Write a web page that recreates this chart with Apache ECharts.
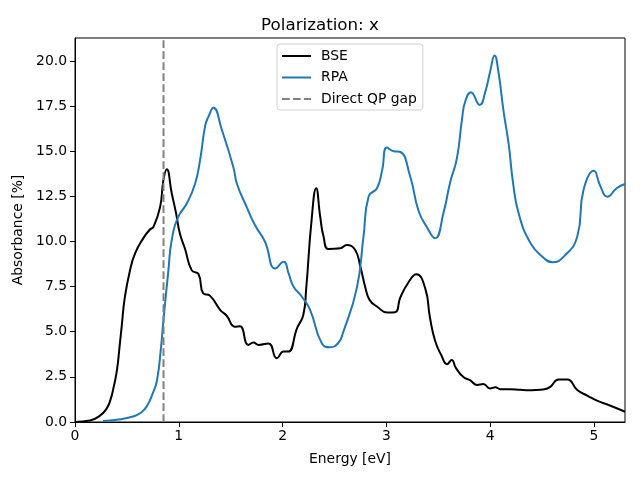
<!DOCTYPE html>
<html><head><meta charset="utf-8">
<script src="https://cdn.jsdelivr.net/npm/echarts@6/dist/echarts.min.js"></script>
<style>html,body{margin:0;padding:0;background:#fff}#c{width:640px;height:480px}</style>
</head><body><div id="c"></div>
<script>
var bseX = [0.00,0.145,0.24,0.30,0.34,0.375,0.405,0.43,0.45,0.48,0.53,0.58,0.66,0.72,0.755,0.82,0.852,0.884,0.932,0.974,1.01,1.06,1.125,1.19,1.235,1.30,1.40,1.46,1.54,1.59,1.67,1.72,1.77,1.865,1.945,2.01,2.055,2.14,2.20,2.228,2.28,2.324,2.363,2.395,2.443,2.555,2.62,2.70,2.75,2.80,2.84,2.91,3.01,3.085,3.135,3.21,3.29,3.375,3.42,3.47,3.53,3.585,3.63,3.67,3.74,3.81,3.875,3.935,4.0,4.05,4.10,4.195,4.29,4.39,4.51,4.58,4.66,4.745,4.84,4.94,5.03,5.16,5.30];
var bseY = [0.00,0.08,0.35,0.7,1.2,2.0,2.9,4.2,5.3,6.9,8.4,9.35,10.2,10.65,10.8,11.9,13.4,14.0,12.67,11.56,10.45,9.6,8.4,8.2,7.13,7.0,6.2,5.9,5.28,5.3,4.27,4.4,4.27,4.35,3.53,3.9,3.9,5.2,5.93,7.4,11.2,12.95,11.37,10.27,9.58,9.62,9.8,9.53,8.6,7.4,6.75,6.4,6.06,6.08,6.9,7.7,8.18,7.4,5.8,4.5,3.7,3.2,3.43,3.0,2.5,2.3,2.05,2.1,1.86,1.92,1.82,1.82,1.78,1.76,1.8,1.95,2.36,2.36,1.77,1.45,1.18,0.9,0.57];
var rpaX = [0.27,0.40,0.56,0.63,0.69,0.75,0.79,0.83,0.85,0.90,0.932,0.996,1.077,1.157,1.205,1.254,1.285,1.334,1.414,1.527,1.56,1.655,1.735,1.83,1.93,2.01,2.06,2.105,2.186,2.266,2.378,2.46,2.54,2.58,2.715,2.78,2.83,2.91,2.96,3.005,3.07,3.13,3.23,3.31,3.39,3.47,3.55,3.616,3.68,3.73,3.76,3.815,3.90,3.954,4.0,4.043,4.08,4.13,4.18,4.22,4.275,4.39,4.52,4.60,4.71,4.84,4.90,5.0,5.06,5.13,5.22,5.30];
var rpaY = [0.05,0.12,0.3,0.5,0.85,1.6,2.3,4.2,5.5,8.4,10.08,11.37,12.1,13.2,14.5,16.4,16.9,17.4,16.2,14.1,13.2,11.9,10.9,10.0,8.5,8.88,8.2,7.5,6.94,6.2,4.36,4.14,4.4,4.9,7.4,10.27,12.5,12.95,13.96,15.2,15.0,14.97,13.6,11.7,10.8,10.18,11.56,13.3,14.6,16.8,17.75,18.27,17.56,18.3,19.4,20.3,19.4,17.2,15.35,13.3,11.56,9.9,9.07,8.85,9.16,10.27,12.85,13.92,13.1,12.48,12.95,13.18];
var gapX = 0.853;
var xTicks = [0,1,2,3,4,5];
var yTicks = [0,2.5,5,7.5,10,12.5,15,17.5,20];
var xMax = 5.3, yMax = 21.27;

function pairs(xs, ys){ return xs.map(function(x,i){ return [x, ys[i]]; }); }
var font = 'DejaVu Sans';
var solidIcon = 'path://M0,0 H29 V2 H0 Z';
var dashIcon = 'path://M0,0 H7.7 V2 H0 Z M11,0 H18.7 V2 H11 Z M22,0 H29 V2 H22 Z';
var chart = echarts.init(document.getElementById('c'), null, {renderer:'canvas'});
chart.setOption({
  animation: false,
  textStyle: {fontFamily: font},
  title: {text: 'Polarization: x', left: 'center', top: 12, textStyle: {fontFamily: font, fontSize: 16.7, fontWeight: 'normal', color: '#000'}},
  grid: {left: 75, right: 15, top: 38, bottom: 58, show: true, borderColor: '#000', borderWidth: 1, backgroundColor: 'transparent'},
  legend: {
    orient: 'vertical', left: 277, top: 44, padding: [5, 6, 4, 5], itemGap: 7.5,
    itemWidth: 29, itemHeight: 14,
    borderColor: '#d0d0d0', borderWidth: 1, borderRadius: 3, backgroundColor: 'rgba(255,255,255,0.8)',
    textStyle: {fontFamily: font, fontSize: 13.9, color: '#000', padding: [0, 0, 0, 5]},
    data: [
      {name: 'BSE', icon: solidIcon, itemStyle: {color: '#000000'}},
      {name: 'RPA', icon: solidIcon, itemStyle: {color: '#1f77b4'}},
      {name: 'Direct QP gap', icon: dashIcon, itemStyle: {color: '#808080'}}
    ]
  },
  xAxis: {
    type: 'value', min: 0, max: xMax,
    name: 'Energy [eV]', nameLocation: 'middle', nameGap: 30,
    nameTextStyle: {fontFamily: font, fontSize: 13.9, color: '#000'},
    axisLine: {show: true, lineStyle: {color: '#000', width: 1}},
    axisTick: {show: true, inside: false, length: 5, lineStyle: {color: '#000'}, customValues: xTicks},
    axisLabel: {fontFamily: font, fontSize: 13.9, color: '#000', margin: 7, customValues: xTicks},
    splitLine: {show: false}
  },
  yAxis: {
    type: 'value', min: 0, max: yMax,
    name: 'Absorbance [%]', nameLocation: 'middle', nameGap: 47, nameRotate: 90,
    nameTextStyle: {fontFamily: font, fontSize: 13.9, color: '#000'},
    axisLine: {show: true, lineStyle: {color: '#000', width: 1}},
    axisTick: {show: true, inside: false, length: 5, lineStyle: {color: '#000'}, customValues: yTicks},
    axisLabel: {fontFamily: font, fontSize: 13.9, color: '#000', margin: 8, customValues: yTicks,
      formatter: function(v){ return v.toFixed(1); }},
    splitLine: {show: false}
  },
  series: [
    {name: 'BSE', type: 'line', data: pairs(bseX, bseY), symbol: 'none', smooth: 0.5,
      lineStyle: {color: '#000000', width: 2}, itemStyle: {color: '#000000'}},
    {name: 'RPA', type: 'line', data: pairs(rpaX, rpaY), symbol: 'none', smooth: 0.5,
      lineStyle: {color: '#1f77b4', width: 2}, itemStyle: {color: '#1f77b4'}},
    {name: 'Direct QP gap', type: 'line', data: [[gapX, 0], [gapX, yMax]], symbol: 'none',
      lineStyle: {color: '#808080', width: 2, type: [7.7, 3.3]}, itemStyle: {color: '#808080'}}
  ]
});
</script></body></html>
